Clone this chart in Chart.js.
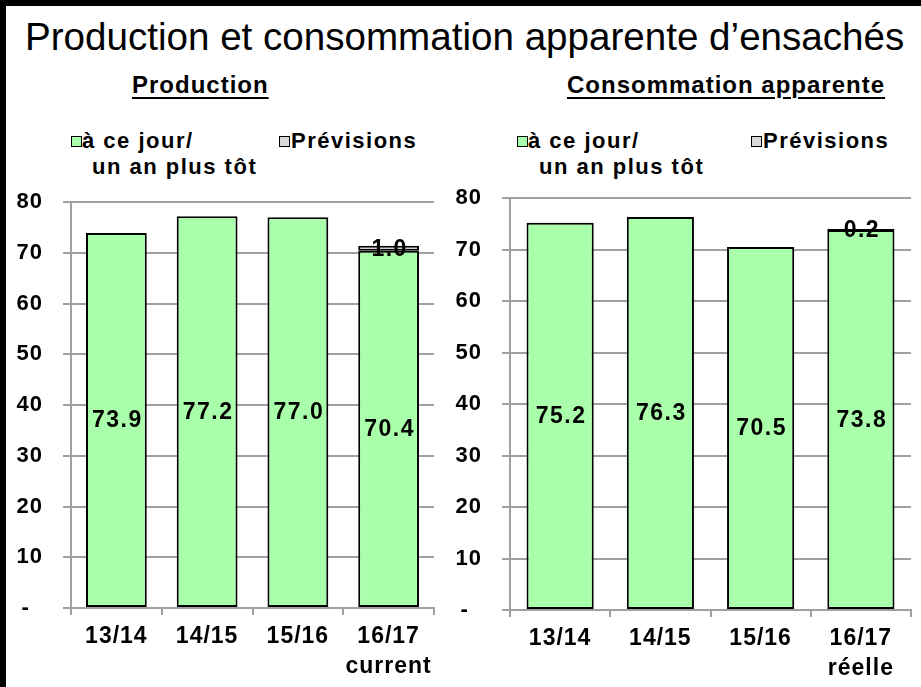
<!DOCTYPE html>
<html>
<head>
<meta charset="utf-8">
<script src="https://cdn.jsdelivr.net/npm/chart.js@4/dist/chart.umd.min.js"></script>
<style>
  body { margin: 0; background: #fff; width: 921px; height: 687px; position: relative; overflow: hidden;
         font-family: "Liberation Sans", Arial, sans-serif; color: #000; }
  .abs { position: absolute; line-height: 1; white-space: nowrap; }
  .leg { font-size: 22px; font-weight: bold; letter-spacing: 1.5px; }
  .sub { font-size: 24px; font-weight: bold; letter-spacing: 1px; text-decoration: underline;
         text-decoration-thickness: 2px; text-underline-offset: 4px; }
  .sq { position: absolute; width: 9px; height: 9px; border: 1px solid #000; }
  canvas { position: absolute; }
</style>
</head>
<body>
<div class="abs" style="left:0;top:0;width:921px;height:6px;background:#000"></div>
<div class="abs" style="left:0;top:0;width:6px;height:687px;background:#000"></div>

<div class="abs" style="left:25px;top:18px;font-size:38.6px">Production et consommation apparente d’ensachés</div>

<div class="abs sub" style="left:132px;top:73px">Production</div>
<div class="abs sub" style="left:567px;top:73px">Consommation apparente</div>

<!-- legends -->
<div class="sq" id="sqA1" style="left:71px;top:136px"></div>
<div class="abs leg" style="left:82px;top:130px">à ce jour/</div>
<div class="abs leg" style="left:92px;top:156px">un an plus tôt</div>
<div class="sq" id="sqB1" style="left:279px;top:136px"></div>
<div class="abs leg" style="left:291px;top:130px">Prévisions</div>

<div class="sq" id="sqA2" style="left:517px;top:136px"></div>
<div class="abs leg" style="left:528px;top:130px">à ce jour/</div>
<div class="abs leg" style="left:539px;top:156px">un an plus tôt</div>
<div class="sq" id="sqB2" style="left:751px;top:136px"></div>
<div class="abs leg" style="left:763px;top:130px">Prévisions</div>

<canvas id="prod" width="444" height="497" style="left:6px;top:190px"></canvas>
<canvas id="conso" width="471" height="501" style="left:450px;top:186px"></canvas>

<script>
// data
const prodLabels = ['13/14', '14/15', '15/16', ['16/17', 'current']];
const prodActual = [73.9, 77.2, 77.0, 70.4];
const prodForecast = [null, null, null, 1.0];

const consoLabels = ['13/14', '14/15', '15/16', ['16/17', 'réelle']];
const consoActual = [75.2, 76.3, 70.5, 73.8];
const consoForecast = [null, null, null, 0.2];

const yTicks = [0, 10, 20, 30, 40, 50, 60, 70, 80];
const seriesNames = ['à ce jour/ un an plus tôt', 'Prévisions'];

const GREEN = '#AAFFAA';
const GREY = '#D9D9D9';
const GRID = '#A0A0A0';
const FONT = '"Liberation Sans", Arial, sans-serif';

['sqA1', 'sqA2'].forEach(id => document.getElementById(id).style.background = GREEN);
['sqB1', 'sqB2'].forEach(id => document.getElementById(id).style.background = GREY);

// text a bit wider, like the original
const spacing = {
    id: 'spacing',
    beforeLayout(chart) { chart.ctx.letterSpacing = '1px'; }
};

// values written in the middle of each segment
const valueLabels = {
    id: 'valueLabels',
    afterDatasetsDraw(chart) {
        let ctx = chart.ctx;
        ctx.save();
        ctx.font = 'bold 23px ' + FONT;
        ctx.letterSpacing = '1.5px';
        ctx.fillStyle = '#000';
        ctx.textAlign = 'center';
        ctx.textBaseline = 'middle';
        chart.data.datasets.forEach((ds, i) => {
            chart.getDatasetMeta(i).data.forEach((bar, j) => {
                let v = ds.data[j];
                if (v == null) return;
                let p = bar.getProps(['x', 'y', 'base'], true);
                ctx.fillText(v.toFixed(1), p.x + 1, (p.y + p.base) / 2 + 1);
            });
        });
        ctx.restore();
    }
};

function makeChart(id, labels, actual, forecast, yWidth, xHeight, padRight) {
    return new Chart(document.getElementById(id).getContext('2d'), {
        type: 'bar',
        data: {
            labels: labels,
            datasets: [{
                label: seriesNames[0],
                data: actual,
                backgroundColor: GREEN,
                borderColor: '#000',
                borderWidth: 2,
                borderSkipped: false
            }, {
                label: seriesNames[1],
                data: forecast,
                backgroundColor: GREY,
                borderColor: '#000',
                borderWidth: 2,
                borderSkipped: false
            }]
        },
        options: {
            responsive: false,
            animation: false,
            devicePixelRatio: 1,
            layout: { padding: { top: 12, right: padRight, left: 0, bottom: 0 } },
            datasets: { bar: { categoryPercentage: 1, barPercentage: 0.67 } },
            plugins: { legend: { display: false }, tooltip: { enabled: false } },
            scales: {
                x: {
                    stacked: true,
                    grid: { display: true, offset: true, drawOnChartArea: false, drawTicks: true,
                            tickLength: 7, color: GRID, lineWidth: 2 },
                    border: { color: GRID, width: 2 },
                    ticks: { color: '#000', font: { family: FONT, size: 23, weight: 'bold', lineHeight: 1.3 },
                             padding: 7, maxRotation: 0 },
                    afterFit(scale) { scale.height = xHeight; }
                },
                y: {
                    stacked: true,
                    min: 0,
                    max: 80,
                    afterBuildTicks(scale) { scale.ticks = yTicks.map(v => ({ value: v })); },
                    grid: { color: GRID, lineWidth: 2, tickLength: 8 },
                    border: { color: GRID, width: 2 },
                    ticks: {
                        color: '#000',
                        font: { family: FONT, size: 22, weight: 'bold' },
                        padding: 20,
                        callback: v => v === 0 ? '-\u2007' : v
                    },
                    afterFit(scale) {
                        scale.width = yWidth;
                        scale.paddingTop = 0;
                        scale.paddingBottom = 0;
                    }
                }
            }
        },
        plugins: [spacing, valueLabels]
    });
}

makeChart('prod', prodLabels, prodActual, prodForecast, 65, 79, 16);
makeChart('conso', consoLabels, consoActual, consoForecast, 60, 77, 10);
</script>
</body>
</html>
